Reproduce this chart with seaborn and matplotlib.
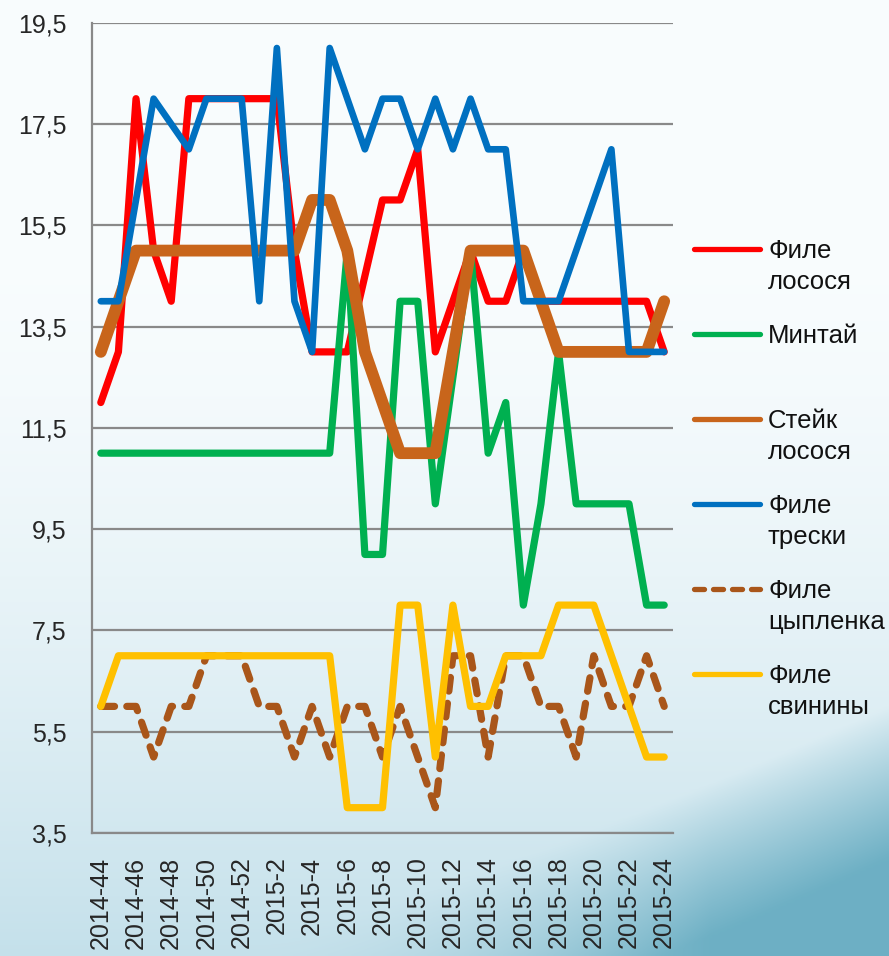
import numpy as np
import pandas as pd
import matplotlib.pyplot as plt
from matplotlib.lines import Line2D
import seaborn as sns

# ---- data ----
WEEKS = ([f"2014-{w}" for w in range(44, 53)] +
         [f"2015-{w}" for w in range(1, 25)])

FILE_LOSOSYA = [12, 13, 18, 15, 14, 18, 18, 18, 18, 18, 18, 15, 13, 13, 13, 14.5,
                16, 16, 17, 13, 14, 15, 14, 14, 15, 14, 14, 14, 14, 14, 14, 14, 13]
MINTAI = [11, 11, 11, 11, 11, 11, 11, 11, 11, 11, 11, 11, 11, 11, 15, 9,
          9, 14, 14, 10, 12.5, 15, 11, 12, 8, 10, 13, 10, 10, 10, 10, 8, 8]
STEIK_LOSOSYA = [13, 14, 15, 15, 15, 15, 15, 15, 15, 15, 15, 15, 16, 16, 15, 13,
                 12, 11, 11, 11, 13, 15, 15, 15, 15, 14, 13, 13, 13, 13, 13, 13, 14]
FILE_TRESKI = [14, 14, 16, 18, 17.5, 17, 18, 18, 18, 14, 19, 14, 13, 19, 18, 17,
               18, 18, 17, 18, 17, 18, 17, 17, 14, 14, 14, 15, 16, 17, 13, 13, 13]
FILE_CYPLENKA = [6, 6, 6, 5, 6, 6, 7, 7, 7, 6, 6, 5, 6, 5, 6, 6,
                 5, 6, 5, 4, 7, 7, 5, 7, 7, 6, 6, 5, 7, 6, 6, 7, 6]
FILE_SVININY = [6, 7, 7, 7, 7, 7, 7, 7, 7, 7, 7, 7, 7, 7, 4, 4,
                4, 8, 8, 5, 8, 6, 6, 7, 7, 7, 8, 8, 8, 7, 6, 5, 5]

SERIES_NAMES = ["Филе\nлосося", "Минтай", "Стейк\nлосося",
                "Филе\nтрески", "Филе\nцыпленка", "Филе\nсвинины"]
SERIES_VALUES = [FILE_LOSOSYA, MINTAI, STEIK_LOSOSYA,
                 FILE_TRESKI, FILE_CYPLENKA, FILE_SVININY]

Y_TICKS = [3.5, 5.5, 7.5, 9.5, 11.5, 13.5, 15.5, 17.5, 19.5]

# ---- styling ----
_COLORS = ["#FF0000", "#00B050", "#C8651B", "#0070C0", "#A9561A", "#FFC000"]
_WIDTHS = [5.2, 5.2, 8.5, 4.8, 5.2, 5.2]
_DASHED = [False, False, False, False, True, False]
_GRID = "#898989"
_DASH = (0, (1.9, 1.7))

sns.set_style("white")
plt.rcParams["font.family"] = ["Liberation Sans", "DejaVu Sans"]

W, H = 889, 956
fig = plt.figure(figsize=(W / 100, H / 100), dpi=100)

# background gradient (white at top, pale blue below, teal swoosh bottom-right)
gy, gx = np.mgrid[0:1:300j, 0:1:300j]
top = np.array([0.975, 0.99, 0.995])
low = np.array([0.77, 0.88, 0.92])
teal = np.array([0.43, 0.69, 0.77])
t = np.clip((gy - 0.25) / 0.75, 0, 1) ** 1.6
img = top * (1 - t[..., None]) + low * t[..., None]
edge = 1.04 - 0.30 * gx ** 1.4
s = np.clip((gy - edge) / 0.16, 0, 1) * np.clip((gx - 0.3) / 0.5, 0, 1)
img = img * (1 - s[..., None]) + teal * s[..., None]
bg = fig.add_axes([0, 0, 1, 1], zorder=-10)
bg.imshow(img, aspect="auto", extent=(0, 1, 0, 1), interpolation="bilinear")
bg.axis("off")

ax = fig.add_axes([92 / W, 1 - 833 / H, 581 / W, (833 - 22.7) / H])
ax.patch.set_alpha(0)

x_idx = np.arange(len(WEEKS))
for name, vals, col, lw, dashed in zip(SERIES_NAMES, SERIES_VALUES, _COLORS,
                                       _WIDTHS, _DASHED):
    df = pd.DataFrame({"week": x_idx, "value": vals})
    sns.lineplot(data=df, x="week", y="value", ax=ax, color=col, linewidth=lw,
                 linestyle=_DASH if dashed else "-", errorbar=None,
                 solid_capstyle="round", dash_capstyle="round",
                 solid_joinstyle="round", dash_joinstyle="round")

ax.set_xlim(-0.5, len(WEEKS) - 0.5)
ax.set_ylim(Y_TICKS[0], Y_TICKS[-1])
ax.set_xticks(x_idx[::2])
ax.set_xticklabels(WEEKS[::2], rotation=90, fontsize=18)
ax.set_xticks(np.arange(-0.5, len(WEEKS), 1), minor=True)
ax.set_yticks(Y_TICKS)
ax.set_yticklabels([f"{v:.1f}".replace(".", ",") for v in Y_TICKS], fontsize=18)
ax.set_xlabel("")
ax.set_ylabel("")

ax.tick_params(axis="x", which="major", length=0, pad=17)
ax.tick_params(axis="x", which="minor", length=6, width=1.5, color=_GRID,
               direction="out")
ax.tick_params(axis="y", length=6.5, width=1.5, color=_GRID, pad=12,
               direction="out")
ax.yaxis.grid(True, color=_GRID, linewidth=1.6)
ax.set_axisbelow(True)
for side in ("top", "right"):
    ax.spines[side].set_visible(False)
for side in ("left", "bottom"):
    ax.spines[side].set_color(_GRID)
    ax.spines[side].set_linewidth(1.6)

# legend drawn to the right, handle aligned with the first text line
leg_y = [249, 334, 419, 504, 589, 674]
for name, col, dashed, y in zip(SERIES_NAMES, _COLORS, _DASHED, leg_y):
    fig.add_artist(Line2D([694 / W, 760 / W], [1 - y / H, 1 - y / H],
                          transform=fig.transFigure, color=col, linewidth=3.8,
                          linestyle=_DASH if dashed else "-",
                          solid_capstyle="round", dash_capstyle="round"))
    for k, line in enumerate(name.split("\n")):
        fig.text(768 / W, 1 - (y + 2 + k * 31) / H, line, fontsize=18.5,
                 ha="left", va="center", color="#111111")

fig.savefig("out.png", dpi=100)
